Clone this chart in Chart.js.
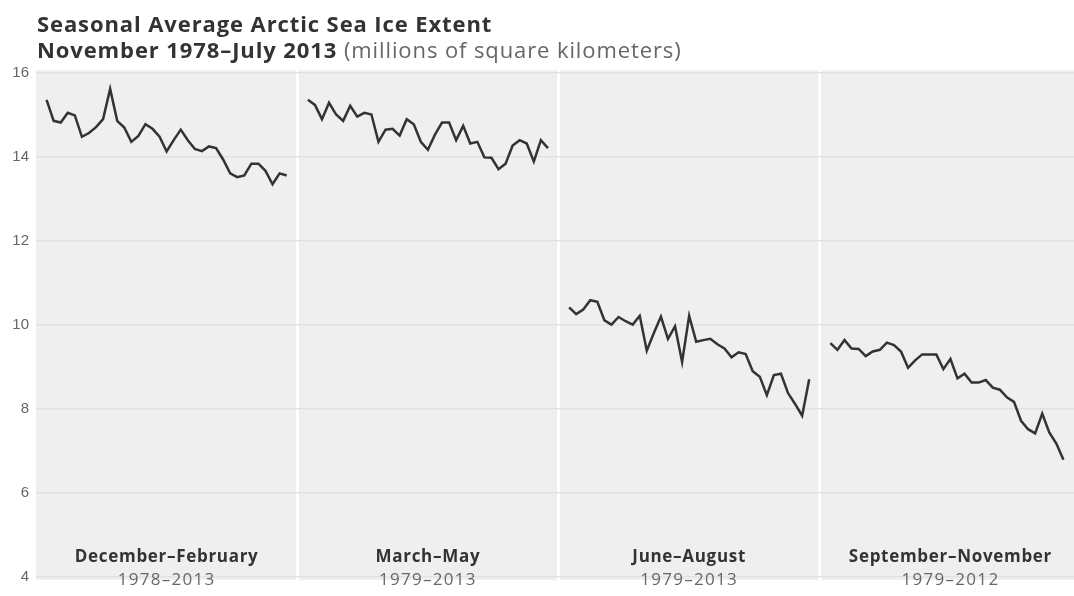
<!DOCTYPE html>
<html>
<head>
<meta charset="utf-8">
<script src="https://cdn.jsdelivr.net/npm/chart.js@4.4.0/dist/chart.umd.min.js"></script>
<style>
  html, body { margin: 0; padding: 0; background: #fff; }
  #wrap { position: relative; width: 1074px; height: 596px; overflow: hidden; }
  #title { position: absolute; left: 37px; top: 10px; font-family: "Open Sans", sans-serif; color: #333; line-height: 26px; z-index: 2; }
  #title .l1, #title .l2 { font-weight: 700; font-size: 22px; letter-spacing: 0.9px; white-space: nowrap; }
  #title .sub { font-weight: 400; color: #666; }
  canvas { position: absolute; left: 0; top: 0; }
</style>
</head>
<body>
<div id="wrap">
  <canvas id="iceChart" width="1074" height="596"></canvas>
  <div id="title">
    <div class="l1">Seasonal Average Arctic Sea Ice Extent</div>
    <div class="l2">November 1978–July 2013 <span class="sub">(millions of square kilometers)</span></div>
  </div>
</div>
<script>
// Estaciones (paneles)
const seasons = ['December–February', 'March–May', 'June–August', 'September–November'];
const seasonYears = ['1978–2013', '1979–2013', '1979–2013', '1979–2012'];
const yTicks = [4, 6, 8, 10, 12, 14, 16];

// Valores (millones de km²)
const winter = [15.36, 14.86, 14.82, 15.05, 14.99, 14.48, 14.57, 14.71, 14.9, 15.62,
  14.86, 14.7, 14.36, 14.5, 14.78, 14.67, 14.48, 14.13, 14.4, 14.65,
  14.4, 14.19, 14.14, 14.25, 14.21, 13.94, 13.61, 13.52, 13.56, 13.84,
  13.84, 13.67, 13.35, 13.61, 13.56];
const spring = [15.36, 15.24, 14.9, 15.29, 15.01, 14.86, 15.22, 14.96, 15.05, 15.01,
  14.36, 14.65, 14.67, 14.51, 14.9, 14.78, 14.36, 14.17, 14.53, 14.82,
  14.82, 14.4, 14.74, 14.32, 14.36, 13.99, 13.98, 13.71, 13.84, 14.27,
  14.4, 14.32, 13.89, 14.4, 14.21];
const summer = [10.42, 10.26, 10.37, 10.59, 10.55, 10.11, 10.01, 10.19, 10.09, 10.01,
  10.22, 9.39, 9.81, 10.2, 9.67, 9.97, 9.12, 10.22, 9.6, 9.64,
  9.67, 9.54, 9.44, 9.23, 9.35, 9.31, 8.9, 8.77, 8.33, 8.81,
  8.84, 8.38, 8.12, 7.84, 8.71];
const autumn = [9.57, 9.41, 9.64, 9.44, 9.43, 9.26, 9.37, 9.41, 9.58, 9.52,
  9.37, 8.98, 9.16, 9.3, 9.3, 9.3, 8.95, 9.19, 8.73, 8.84,
  8.63, 8.63, 8.69, 8.51, 8.46, 8.28, 8.17, 7.72, 7.52, 7.42,
  7.89, 7.44, 7.18, 6.79];

const seriesList = [winter, spring, summer, autumn];
const panelWidth = 37; // unidades del eje x por panel
const panelOffset = 1.5;

function toPoints(values, panel) {
  return values.map((v, i) => ({ x: panel * panelWidth + panelOffset + i, y: v }));
}

const panelBackground = {
  id: 'panelBackground',
  beforeDraw(chart) {
    const { ctx, chartArea } = chart;
    ctx.save();
    ctx.fillStyle = '#efefef';
    ctx.fillRect(chartArea.left, chartArea.top, chartArea.right - chartArea.left, chartArea.bottom - chartArea.top);
    ctx.restore();
  }
};

const panelLabels = {
  id: 'panelLabels',
  afterDraw(chart) {
    const { ctx } = chart;
    const xs = chart.scales.x;
    ctx.save();
    ctx.textAlign = 'center';
    ctx.textBaseline = 'alphabetic';
    seasons.forEach((name, k) => {
      const cx = xs.getPixelForValue(k * panelWidth + panelWidth / 2);
      ctx.font = 'bold 17px "Open Sans", sans-serif';
      ctx.letterSpacing = '0.7px';
      ctx.fillStyle = '#333';
      ctx.fillText(name, cx, 562);
      ctx.font = '17px "Open Sans", sans-serif';
      ctx.letterSpacing = '1.3px';
      ctx.fillStyle = '#666';
      ctx.fillText(seasonYears[k], cx, 585);
    });
    ctx.restore();
  }
};

const ctx = document.getElementById('iceChart').getContext('2d');
new Chart(ctx, {
  type: 'line',
  data: {
    datasets: seriesList.map((vals, k) => ({
      data: toPoints(vals, k),
      borderColor: '#333',
      borderWidth: 2.5,
      pointRadius: 0,
      tension: 0,
      fill: false
    }))
  },
  options: {
    responsive: false,
    animation: false,
    layout: { padding: { top: 70, bottom: 4, left: 0, right: 0 } },
    plugins: { legend: { display: false }, tooltip: { enabled: false }, title: { display: false } },
    scales: {
      x: {
        type: 'linear',
        min: 0,
        max: 147,
        afterBuildTicks: (scale) => { scale.ticks = [1, 2, 3].map(k => ({ value: k * panelWidth })); },
        afterFit: (scale) => { scale.height = 0; },
        ticks: { display: false },
        grid: { color: '#ffffff', lineWidth: 3, drawTicks: false },
        border: { display: false }
      },
      y: {
        z: -1,
        min: 3.93,
        max: 16.07,
        afterBuildTicks: (scale) => { scale.ticks = yTicks.map(v => ({ value: v })); },
        afterFit: (scale) => { scale.width = 36; },
        ticks: {
          color: '#666',
          padding: 7,
          font: { family: 'Liberation Sans', size: 15 }
        },
        grid: { color: '#e2e2e2', lineWidth: 1.5, drawTicks: false },
        border: { display: false }
      }
    }
  },
  plugins: [panelBackground, panelLabels]
});
</script>
</body>
</html>
